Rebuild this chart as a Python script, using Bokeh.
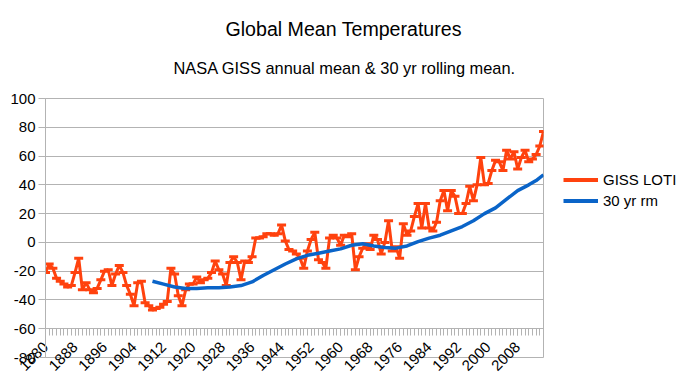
import math
from bokeh.plotting import figure
from bokeh.layouts import row
from bokeh.models import Range1d, FixedTicker, Title, Legend, LegendItem
from bokeh.embed import file_html
from bokeh.resources import INLINE

# ---------------- data ----------------
years = list(range(1880, 2016))
giss_loti = [
    -21, -15, -18, -25, -27, -29, -31, -30, -21, -11,   # 1880-1889
    -33, -28, -33, -35, -32, -26, -20, -19, -30, -22,   # 1890-1899
    -16, -21, -30, -36, -44, -28, -27, -42, -44, -47,   # 1900-1909
    -46, -45, -43, -41, -18, -22, -37, -44, -33, -29,   # 1910-1919
    -29, -24, -28, -26, -25, -21, -13, -19, -22, -30,   # 1920-1929
    -14, -10, -14, -26, -13, -14, -10, 3, 3, 4,         # 1930-1939
    6, 6, 5, 6, 12, 1, -5, -6, -8, -11,                 # 1940-1949
    -18, -6, 2, 7, -12, -14, -18, 3, 5, 3,              # 1950-1959
    -2, 5, 4, 6, -19, -10, -4, -1, -5, 5,               # 1960-1969
    2, -8, 0, 15, -6, -3, -11, 13, 5, 8,                # 1970-1979
    18, 27, 10, 27, 10, 8, 14, 29, 36, 22,              # 1980-1989
    36, 32, 20, 20, 27, 39, 29, 40, 59, 40,             # 1990-1999
    41, 50, 57, 56, 50, 64, 58, 63, 51, 59,             # 2000-2009
    64, 56, 58, 61, 67, 77,                             # 2010-2015
]
rm_years = [1909, 1912, 1915, 1918, 1921, 1924, 1927, 1930, 1933, 1936,
            1939, 1942, 1945, 1948, 1951, 1954, 1957, 1960, 1963, 1966,
            1969, 1972, 1975, 1978, 1981, 1984, 1987, 1990, 1993, 1996,
            1999, 2002, 2005, 2008, 2011, 2013, 2015]
rm_values = [-27, -29, -31, -32, -32, -31.5, -31.5, -31, -30, -27.5,
             -23, -19, -15, -11.5, -9, -7.5, -6, -4.5, -2, -1,
             -2.5, -3.5, -4, -2.5, 0.5, 3, 5, 8, 11, 15,
             20, 24, 30, 36, 40, 43, 47]
x_tick_years = [1880, 1888, 1896, 1904, 1912, 1920, 1928, 1936, 1944,
                1952, 1960, 1968, 1976, 1984, 1992, 2000, 2008]
y_ticks = [-80, -60, -40, -20, 0, 20, 40, 60, 80, 100]
y_tick_labels = ["-80", "-60", "-40", "-20", "0", "20", "40", "60", "80", "100"]

title_text = "Global Mean Temperatures"
subtitle_text = "NASA GISS annual mean & 30 yr rolling mean."
series_names = ["GISS LOTI", "30 yr rm"]

# ---------------- style ----------------
FONT = "Liberation Sans"
ORANGE = "#ff420e"
BLUE = "#0a64c8"
GRID = "#b3b3b3"

p = figure(width=545, height=378, output_backend="svg", toolbar_location=None,
           x_range=Range1d(1880, 2015), y_range=Range1d(-80, 100),
           min_border_left=45, min_border_right=2, min_border_top=98,
           min_border_bottom=21, background_fill_color="white",
           border_fill_color="white")
p.title.visible = False
p.outline_line_color = GRID

sub = Title(text=subtitle_text, align="left", offset=128, standoff=44,
            text_font=FONT, text_font_size="16.4px", text_font_style="normal",
            text_color="black")
p.add_layout(sub, "above")
main = Title(text=title_text, align="left", offset=180, standoff=-10,
             text_font=FONT, text_font_size="19.6px", text_font_style="normal",
             text_color="black")
p.add_layout(main, "above")

# grid
p.xgrid.visible = False
p.ygrid.ticker = FixedTicker(ticks=y_ticks)
p.ygrid.grid_line_color = GRID

# y axis
ya = p.yaxis[0]
ya.ticker = FixedTicker(ticks=y_ticks)
ya.major_label_overrides = {t: s for t, s in zip(y_ticks, y_tick_labels)}
ya.axis_line_color = GRID
ya.major_tick_line_color = GRID
ya.major_tick_out = 7
ya.major_tick_in = 0
ya.minor_tick_line_color = None
ya.major_label_standoff = 3
ya.major_label_text_font = FONT
ya.major_label_text_font_size = "15px"
ya.major_label_text_color = "black"

# x axis: sits on the frame bottom, ticks drawn up at the -60 line
xa = p.xaxis[0]
xa.ticker = FixedTicker(ticks=x_tick_years, minor_ticks=years)
xa.axis_line_color = None
xa.major_tick_line_color = GRID
xa.minor_tick_line_color = GRID
xa.major_tick_in = 29
xa.major_tick_out = -22
xa.minor_tick_in = 29
xa.minor_tick_out = -22
xa.major_label_orientation = math.pi / 4
xa.major_label_standoff = 9
xa.major_label_text_font = FONT
xa.major_label_text_font_size = "15px"
xa.major_label_text_color = "black"

# series
l1 = p.line(years, giss_loti, line_color=ORANGE, line_width=3)
p.scatter(years, giss_loti, marker="dash", size=9, line_color=ORANGE,
          line_width=3)
l2 = p.line(rm_years, rm_values, line_color=BLUE, line_width=3.5)

# legend panel (separate small figure to the right of the chart);
# its series lie outside this panel's ranges, only the legend keys show
q = figure(width=155, height=378, output_backend="svg", toolbar_location=None,
           x_range=Range1d(0, 1), y_range=Range1d(0, 1),
           x_axis_type=None, y_axis_type=None, min_border=0,
           background_fill_color="white", border_fill_color="white")
q.title.visible = False
q.outline_line_color = None
q.xgrid.visible = False
q.ygrid.visible = False
k1 = q.line(years, giss_loti, line_color=ORANGE, line_width=4)
k2 = q.line(rm_years, rm_values, line_color=BLUE, line_width=4)

legend = Legend(items=[LegendItem(label=series_names[0], renderers=[k1]),
                       LegendItem(label=series_names[1], renderers=[k2])],
                location=(18, 146), orientation="vertical",
                glyph_width=35, glyph_height=21, label_height=21,
                label_standoff=5, spacing=0, padding=0, margin=0,
                border_line_color=None, background_fill_alpha=0,
                label_text_font=FONT, label_text_font_size="15px",
                label_text_color="black")
q.add_layout(legend)

layout = row(p, q)
open("out.html", "w").write(file_html(layout, INLINE))
